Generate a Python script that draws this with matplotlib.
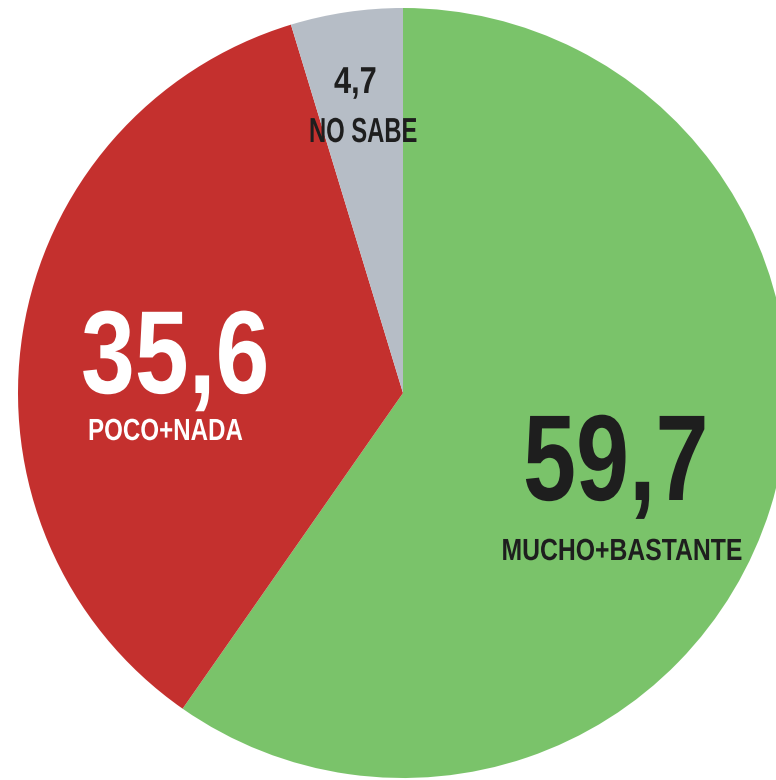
import matplotlib.pyplot as plt
from matplotlib.patheffects import AbstractPathEffect
from matplotlib.transforms import Affine2D

labels = ['MUCHO+BASTANTE', 'POCO+NADA', 'NO SABE']
values = [59.7, 35.6, 4.7]
value_text = ['59,7', '35,6', '4,7']
colors = ['#7AC36A', '#C4302E', '#B6BDC6']

font = ['Liberation Sans', 'DejaVu Sans']
dark = '#1E1E1E'


class Narrow(AbstractPathEffect):
    # squeeze glyphs horizontally to look like a condensed face
    def __init__(self, sx, anchor='left'):
        super().__init__()
        self.sx = sx
        self.anchor = anchor

    def draw_path(self, renderer, gc, tpath, affine, rgbFace=None):
        ext = tpath.get_extents()
        x0 = {'left': 0, 'right': ext.x1}[self.anchor]
        squeeze = Affine2D().translate(-x0, 0).scale(self.sx, 1).translate(x0, 0)
        renderer.draw_path(gc, tpath, squeeze + affine, rgbFace)


fig = plt.figure(figsize=(7.76, 7.8), dpi=100)
ax = fig.add_axes([0, 0, 1, 1])

ax.pie(values, colors=colors, startangle=90, counterclock=False,
       center=(403, 387), radius=385, wedgeprops=dict(linewidth=0))

ax.set_xlim(0, 776)
ax.set_ylim(0, 780)
ax.set_aspect('equal')
ax.axis('off')


def put(x, y, s, size, color, sx, ha='left'):
    # x = left (or right) edge, y = baseline, both in pixels from top-left
    ax.text(x, 780 - y, s, ha=ha, va='baseline', fontsize=size,
            fontweight='bold', color=color, family=font,
            path_effects=[Narrow(sx, ha)])


put(523, 500, value_text[0], 88, dark, 0.78)
put(81, 393, value_text[1], 85, 'white', 0.82)
put(334, 93, value_text[2], 27, dark, 0.82)

put(742, 560, labels[0], 22, dark, 0.81, ha='right')
put(88, 440, labels[1], 22, 'white', 0.79)
put(309, 142, labels[2], 25, dark, 0.685)

fig.savefig('out.png', dpi=100)
